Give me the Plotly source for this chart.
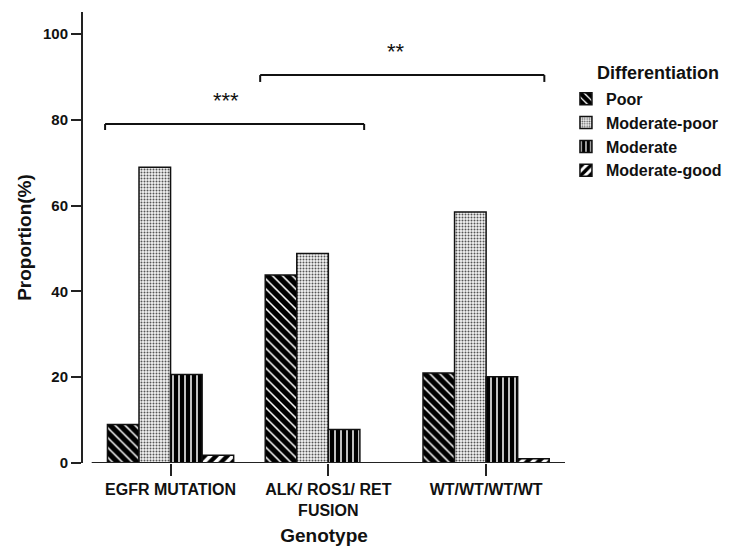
import plotly.graph_objects as go

categories = ["EGFR MUTATION", "ALK/ ROS1/ RET FUSION", "WT/WT/WT/WT"]
tick_labels = ["EGFR MUTATION", "ALK/ ROS1/ RET<br>FUSION", "WT/WT/WT/WT"]
series_names = ["Poor", "Moderate-poor", "Moderate", "Moderate-good"]
poor = [9.0, 43.8, 21.0]
moderate_poor = [68.9, 48.8, 58.5]
moderate = [20.6, 7.8, 20.1]
moderate_good = [1.8, 0.0, 1.0]
y_ticks = [0, 20, 40, 60, 80, 100]

FONT = "Liberation Sans, Arial, Helvetica, sans-serif"
x_pos = list(range(len(categories)))

patterns = [
    dict(shape="\\", fgcolor="#000000", bgcolor="white", size=7, solidity=0.78, fgopacity=1),
    dict(shape=".", fgcolor="#555555", bgcolor="#f4f4f4", size=3, solidity=0.35, fgopacity=1),
    dict(shape="|", fgcolor="#000000", bgcolor="white", size=6, solidity=0.75, fgopacity=1),
    dict(shape="/", fgcolor="#000000", bgcolor="white", size=8, solidity=0.55, fgopacity=1),
]
values = [poor, moderate_poor, moderate, moderate_good]

fig = go.Figure()
for name, vals, pat in zip(series_names, values, patterns):
    fig.add_trace(go.Bar(
        x=x_pos, y=vals, name=name,
        marker=dict(color="white", pattern=pat, line=dict(color="#111111", width=1.5)),
    ))

# significance brackets
brackets = [(-0.415, 1.227, 79.0, 77.6, "***", 0.35, 84.4),
            (0.568, 2.369, 90.4, 88.8, "**", 1.43, 96.0)]
for x0, x1, ytop, ylow, label, tx, ty in brackets:
    for (a, b, c, d) in [(x0, ytop, x1, ytop), (x0, ylow, x0, ytop), (x1, ylow, x1, ytop)]:
        fig.add_shape(type="line", xref="x", yref="y", x0=a, y0=b, x1=c, y1=d,
                      line=dict(color="#111111", width=2))
    fig.add_annotation(x=tx, y=ty, xref="x", yref="y", text=label, showarrow=False,
                       font=dict(family=FONT, size=22, color="#111111"))

# x axis baseline (offset from y axis)
fig.add_shape(type="line", xref="x", yref="y", x0=-0.5, x1=2.5, y0=0, y1=0,
              line=dict(color="#222222", width=2), layer="above")

fig.add_annotation(x=1.062, y=0.865, xref="paper", yref="paper", xanchor="left", yanchor="middle",
                   text="Differentiation", showarrow=False,
                   font=dict(family=FONT, size=18, color="#111111", weight="bold"))

fig.update_layout(
    width=729, height=548,
    margin=dict(l=83, r=164, t=12, b=85, autoexpand=False),
    paper_bgcolor="white", plot_bgcolor="white",
    barmode="group", bargap=0.2, bargroupgap=0,
    font=dict(family=FONT, color="#111111"),
    showlegend=True,
    legend=dict(x=1.002, y=0.845, xanchor="left", yanchor="top",
                font=dict(family=FONT, size=16, color="#111111", weight="bold"),
                bgcolor="rgba(0,0,0,0)", tracegroupgap=0),
    xaxis=dict(range=[-0.555, 2.5], tickmode="array", tickvals=x_pos, ticktext=tick_labels,
               showline=False, showgrid=False, zeroline=False,
               ticks="outside", ticklen=12, tickwidth=1.5, tickcolor="#222222",
               tickfont=dict(family=FONT, size=16, color="#111111", weight="bold"),
               title=dict(text="Genotype", standoff=10,
                          font=dict(family=FONT, size=19, weight="bold"))),
    yaxis=dict(range=[0, 105.1], tickvals=y_ticks, showline=True, linewidth=2, linecolor="#222222",
               showgrid=False, zeroline=False,
               ticks="outside", ticklen=10, tickwidth=1.5, tickcolor="#222222",
               tickfont=dict(family=FONT, size=15, color="#111111", weight="bold"),
               title=dict(text="Proportion(%)", standoff=6,
                          font=dict(family=FONT, size=19, weight="bold"))),
)

fig.write_html("out.html")
